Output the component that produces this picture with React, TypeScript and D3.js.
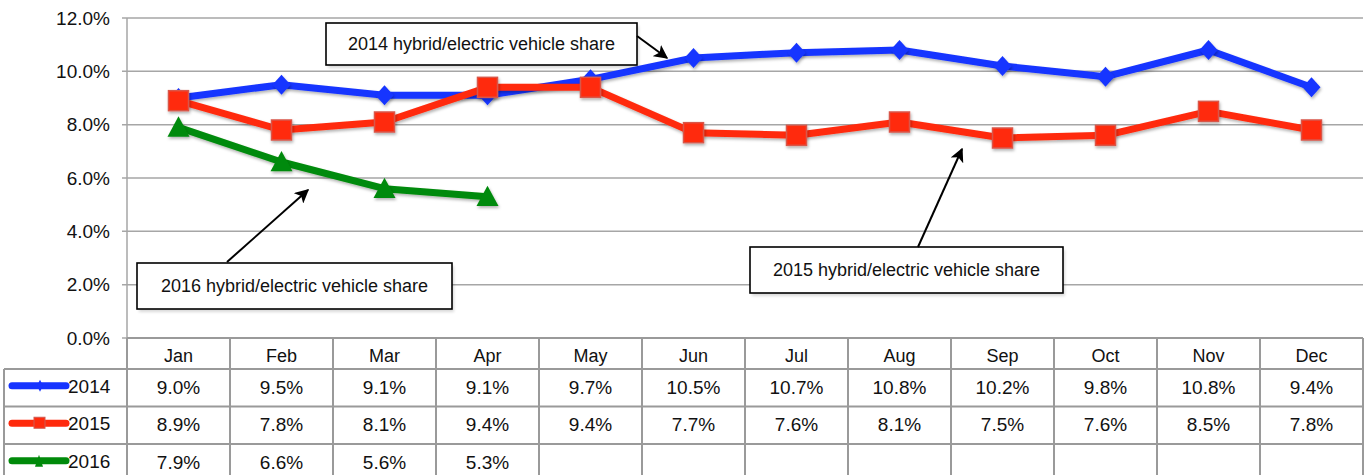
import React from "react";
import * as d3 from "d3";

const months = ["Jan", "Feb", "Mar", "Apr", "May", "Jun", "Jul", "Aug", "Sep", "Oct", "Nov", "Dec"];
const series2014 = [9.0, 9.5, 9.1, 9.1, 9.7, 10.5, 10.7, 10.8, 10.2, 9.8, 10.8, 9.4];
const series2015 = [8.9, 7.8, 8.1, 9.4, 9.4, 7.7, 7.6, 8.1, 7.5, 7.6, 8.5, 7.8];
const series2016 = [7.9, 6.6, 5.6, 5.3];
const yTicks = [0, 2, 4, 6, 8, 10, 12];
const seriesNames = ["2014", "2015", "2016"];
const annotations = [
  { text: "2014 hybrid/electric vehicle share" },
  { text: "2015 hybrid/electric vehicle share" },
  { text: "2016 hybrid/electric vehicle share" },
];

const W = 1365;
const H = 475;
const left = 127;
const right = 1363;
const top = 18;
const bottom = 338;
const FONT = "'Liberation Sans Narrow', 'Arial Narrow', 'Liberation Sans', sans-serif";

const COLORS = ["#1634ff", "#ff2a0c", "#008a0a"];
const GRID = "#a6a6a6";
const TBL = "#9a9a9a";

export default function App() {
  const x = d3.scaleBand<string>().domain(months).range([left, right]);
  const y = d3.scaleLinear().domain([0, 12]).range([bottom, top]);
  const cx = (m: string) => (x(m) as number) + x.bandwidth() / 2;
  const line = d3
    .line<number>()
    .x((_, i) => cx(months[i]))
    .y((d) => y(d));

  const data = [series2014, series2015, series2016];
  const rowTops = [369, 406.5, 444];
  const rowH = 37.5;
  const headerTop = bottom;

  const marker = (k: number, px: number, py: number, key: string) => {
    if (k === 0) {
      const s = 10;
      return (
        <path key={key} d={`M${px},${py - s}L${px + s * 0.9},${py}L${px},${py + s}L${px - s * 0.9},${py}Z`} fill={COLORS[0]} filter="url(#sh)" />
      );
    }
    if (k === 1) {
      return (
        <rect key={key} x={px - 10} y={py - 10} width={20} height={20} fill={COLORS[1]} stroke="#d9574a" strokeWidth={1.5} filter="url(#sh)" />
      );
    }
    const s = 11;
    return (
      <path key={key} d={`M${px},${py - s}L${px + s},${py + s * 0.85}L${px - s},${py + s * 0.85}Z`} fill={COLORS[2]} filter="url(#sh)" />
    );
  };

  const box = (bx: number, by: number, bw: number, bh: number, text: string, key: string) => (
    <g key={key}>
      <rect x={bx + 2} y={by + 3} width={bw} height={bh} fill="#000" opacity={0.15} filter="url(#blur)" />
      <rect x={bx} y={by} width={bw} height={bh} fill="#fff" stroke="#000" strokeWidth={1.6} />
      <text x={bx + bw / 2} y={by + bh / 2 + 6} textAnchor="middle" fontSize={18} fontFamily={FONT} fill="#111">
        {text}
      </text>
    </g>
  );

  return (
    <svg width={W} height={H} style={{ position: "absolute", left: 0, top: 0 }}>
      <defs>
        <filter id="sh" x="-50%" y="-50%" width="200%" height="200%">
          <feDropShadow dx="1" dy="2" stdDeviation="1.5" floodColor="#000" floodOpacity="0.3" />
        </filter>
        <filter id="blur">
          <feGaussianBlur stdDeviation="1.5" />
        </filter>
        <marker id="arr" viewBox="0 0 10 10" refX="9" refY="5" markerWidth="7" markerHeight="7" orient="auto-start-reverse">
          <path d="M0,0L10,5L0,10L2.5,5Z" fill="#000" />
        </marker>
      </defs>
      <rect width={W} height={H} fill="#fff" />
      {/* gridlines */}
      {yTicks.map((t) => (
        <g key={t}>
          <line x1={left - 5} x2={right} y1={y(t)} y2={y(t)} stroke={GRID} strokeWidth={1.5} />
          <text x={110} y={y(t) + 6.5} textAnchor="end" fontSize={19} fontFamily={FONT} fill="#111">
            {t.toFixed(1)}%
          </text>
        </g>
      ))}
      <line x1={left} x2={left} y1={top} y2={bottom} stroke={GRID} strokeWidth={1.5} />

      {/* table */}
      <g>
        <line x1={left} x2={right} y1={headerTop} y2={headerTop} stroke={TBL} strokeWidth={2} />
        {rowTops.map((rt, i) => (
          <line key={i} x1={4} x2={right} y1={rt} y2={rt} stroke={TBL} strokeWidth={2} />
        ))}
        <line x1={4} x2={right} y1={rowTops[2] + rowH} y2={rowTops[2] + rowH} stroke={TBL} strokeWidth={2} />
        <line x1={4} x2={4} y1={rowTops[0]} y2={H + 10} stroke={TBL} strokeWidth={2} />
        {months.map((m) => (
          <line key={m} x1={x(m) as number} x2={x(m) as number} y1={headerTop} y2={H + 10} stroke={TBL} strokeWidth={2} />
        ))}
        <line x1={right} x2={right} y1={headerTop} y2={H + 10} stroke={TBL} strokeWidth={2} />
        {months.map((m) => (
          <text key={m} x={cx(m)} y={headerTop + 24} textAnchor="middle" fontSize={18} fontFamily={FONT} fill="#111">
            {m}
          </text>
        ))}
        {data.map((s, k) => (
          <g key={k}>
            <line x1={12} x2={66} y1={rowTops[k] + rowH / 2 - 2} y2={rowTops[k] + rowH / 2 - 2} stroke={COLORS[k]} strokeWidth={7} strokeLinecap="round" />
            {k === 0 && (
              <path d={`M40,${rowTops[k] + rowH / 2 - 8}L43,${rowTops[k] + rowH / 2 - 2}L40,${rowTops[k] + rowH / 2 + 4}L37,${rowTops[k] + rowH / 2 - 2}Z`} fill={COLORS[0]} />
            )}
            {k === 1 && (
              <rect x={34} y={rowTops[k] + rowH / 2 - 8} width={11} height={11} fill={COLORS[1]} stroke="#cf5a50" strokeWidth={1} />
            )}
            {k === 2 && (
              <path d={`M39,${rowTops[k] + rowH / 2 - 8}L43,${rowTops[k] + rowH / 2 + 4}L35,${rowTops[k] + rowH / 2 + 4}Z`} fill={COLORS[2]} />
            )}
            <text x={68} y={rowTops[k] + rowH / 2 + 5} fontSize={19} fontFamily={FONT} fill="#111">
              {seriesNames[k]}
            </text>
            {s.map((v, i) => (
              <text key={i} x={cx(months[i])} y={rowTops[k] + rowH / 2 + 6} textAnchor="middle" fontSize={19} fontFamily={FONT} fill="#111">
                {v.toFixed(1)}%
              </text>
            ))}
          </g>
        ))}
      </g>

      {/* lines */}
      {data.map((s, k) => (
        <path key={k} d={line(s) || ""} fill="none" stroke={COLORS[k]} strokeWidth={7} strokeLinejoin="round" filter="url(#sh)" />
      ))}
      {data.map((s, k) => s.map((v, i) => marker(k, cx(months[i]), y(v), `${k}-${i}`)))}

      {/* annotations */}
      {box(326, 23, 311, 42, annotations[0].text, "a0")}
      <line x1={637} y1={36} x2={667} y2={58} stroke="#000" strokeWidth={2} markerEnd="url(#arr)" />
      {box(750, 247, 313, 46, annotations[1].text, "a1")}
      <line x1={918} y1={247} x2={962} y2={149} stroke="#000" strokeWidth={2} markerEnd="url(#arr)" />
      {box(137, 263, 315, 46, annotations[2].text, "a2")}
      <line x1={227} y1={262} x2={308} y2={190} stroke="#000" strokeWidth={2} markerEnd="url(#arr)" />
    </svg>
  );
}
